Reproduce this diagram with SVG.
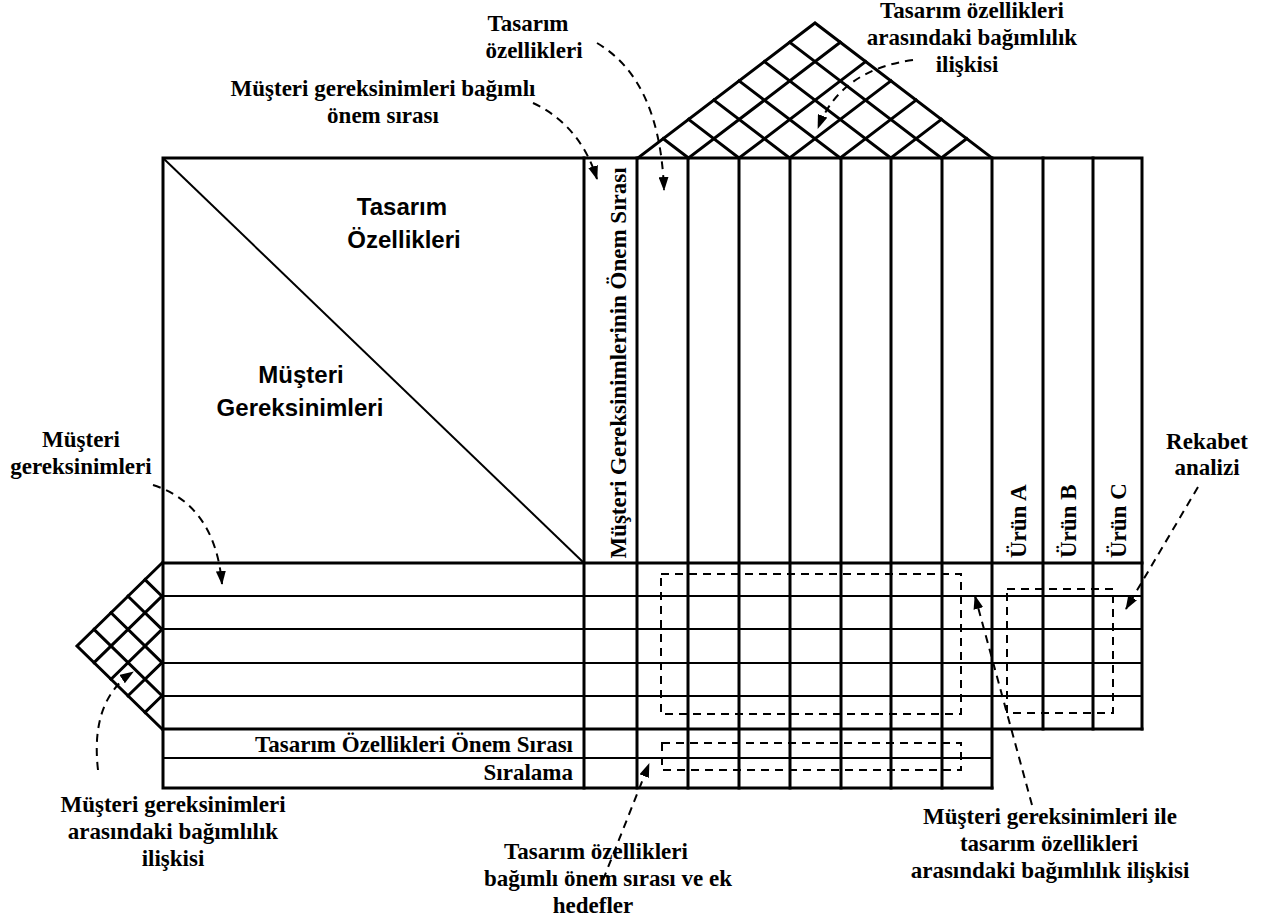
<svg xmlns="http://www.w3.org/2000/svg" width="1262" height="924" viewBox="0 0 1262 924">
<style>
.th{stroke:#000;stroke-width:3;fill:none;stroke-linecap:square}
.tn{stroke:#000;stroke-width:2;fill:none}
.ds{stroke:#000;stroke-width:2;fill:none;stroke-dasharray:8,6}
.lb{font-family:"Liberation Serif","Times New Roman",serif;font-weight:bold;font-size:23px;fill:#000}
.sn{font-family:"Liberation Sans",Arial,sans-serif;font-weight:bold;font-size:24px;fill:#000}
</style>
<defs>
<marker id="ah" markerUnits="userSpaceOnUse" markerWidth="14" markerHeight="10" refX="13" refY="5" orient="auto">
<path d="M0,0 L14,5 L0,10 Z" fill="#000"/>
</marker>
</defs>
<rect width="1262" height="924" fill="#fff"/>

<g id="roof">
<path class="th" d="M638,158 L815,23 L992,158"/>
<path class="th" d="M688.6,158 L840.3,42.3 M739.1,158 L865.6,61.6 M789.7,158 L890.9,80.9 M840.3,158 L916.1,100.1 M890.9,158 L941.4,119.4 M941.4,158 L966.7,138.7"/>
<path class="th" d="M688.6,158 L663.3,138.7 M739.1,158 L688.6,119.4 M789.7,158 L713.9,100.1 M840.3,158 L739.1,80.9 M890.9,158 L764.4,61.6 M941.4,158 L789.7,42.3"/>
</g>

<g id="left-diamond">
<path class="th" d="M162,563 L77,646 L162,729"/>
<path class="th" d="M162,596.2 L145,579.6 M162,629.4 L128,596.2 M162,662.6 L111,612.8 M162,695.8 L94,629.4"/>
<path class="th" d="M162,596.2 L94,662.6 M162,629.4 L111,679.2 M162,662.6 L128,695.8 M162,695.8 L145,712.4"/>
</g>

<g id="main-grid">
<path class="th" d="M163,158 L1142,158 L1142,729 M163,158 L163,788 L992,788"/>
<path class="tn" d="M163,158 L584,563"/>
<path class="th" d="M584,158 V788 M637,158 V788 M688,158 V788 M739,158 V788 M790,158 V788 M841,158 V788 M891,158 V788 M942,158 V788 M992,158 V788 M1043,158 V729 M1093,158 V729"/>
<path class="th" d="M163,563 H1142 M163,729 H1142"/>
<path class="tn" d="M163,596 H1142 M163,629 H1142 M163,663 H1142 M163,696 H1142 M163,758 H992"/>
</g>

<g id="dashed-regions">
<rect class="ds" x="661" y="574" width="300" height="140"/>
<rect class="ds" x="662" y="743" width="299" height="27"/>
<rect class="ds" x="1007" y="589" width="106" height="124"/>
</g>

<g id="inner-labels">
<text class="sn" x="402" y="215" text-anchor="middle">Tasarım</text>
<text class="sn" x="404" y="248" text-anchor="middle">Özellikleri</text>
<text class="sn" x="301" y="383" text-anchor="middle">Müşteri</text>
<text class="sn" x="300" y="416" text-anchor="middle">Gereksinimleri</text>
<text class="lb" transform="translate(626,363) rotate(-90)" text-anchor="middle">Müşteri Gereksinimlerinin Önem Sırası</text>
<text class="lb" transform="translate(1026,558) rotate(-90)">Ürün A</text>
<text class="lb" transform="translate(1076,558) rotate(-90)">Ürün B</text>
<text class="lb" transform="translate(1126,558) rotate(-90)">Ürün C</text>
<text class="lb" x="573" y="752" text-anchor="end">Tasarım Özellikleri Önem Sırası</text>
<text class="lb" x="573" y="780" text-anchor="end">Sıralama</text>
</g>

<g id="callout-labels">
<text class="lb" x="528" y="31" text-anchor="middle">Tasarım</text>
<text class="lb" x="534" y="58" text-anchor="middle">özellikleri</text>
<text class="lb" x="383" y="96" text-anchor="middle">Müşteri gereksinimleri bağımlı</text>
<text class="lb" x="383" y="123" text-anchor="middle">önem sırası</text>
<text class="lb" x="972" y="18" text-anchor="middle">Tasarım özellikleri</text>
<text class="lb" x="972" y="45" text-anchor="middle">arasındaki bağımlılık</text>
<text class="lb" x="967" y="72" text-anchor="middle">ilişkisi</text>
<text class="lb" x="81" y="447" text-anchor="middle">Müşteri</text>
<text class="lb" x="81" y="474" text-anchor="middle">gereksinimleri</text>
<text class="lb" x="1207" y="449" text-anchor="middle">Rekabet</text>
<text class="lb" x="1207" y="475" text-anchor="middle">analizi</text>
<text class="lb" x="173" y="812" text-anchor="middle">Müşteri gereksinimleri</text>
<text class="lb" x="173" y="839" text-anchor="middle">arasındaki bağımlılık</text>
<text class="lb" x="173" y="866" text-anchor="middle">ilişkisi</text>
<text class="lb" x="596" y="859" text-anchor="middle">Tasarım özellikleri</text>
<text class="lb" x="608" y="886" text-anchor="middle">bağımlı önem sırası ve ek</text>
<text class="lb" x="593" y="913" text-anchor="middle">hedefler</text>
<text class="lb" x="1050" y="824" text-anchor="middle">Müşteri gereksinimleri ile</text>
<text class="lb" x="1049" y="851" text-anchor="middle">tasarım özellikleri</text>
<text class="lb" x="1050" y="878" text-anchor="middle">arasındaki bağımlılık ilişkisi</text>
</g>

<g id="connectors">
<path class="ds" d="M597,43 Q660,80 664,190" marker-end="url(#ah)"/>
<path class="ds" d="M533,103 Q580,125 597,179" marker-end="url(#ah)"/>
<path class="ds" d="M913,60 Q840,70 818,128" marker-end="url(#ah)"/>
<path class="ds" d="M153,485 Q215,505 222,584" marker-end="url(#ah)"/>
<path class="ds" d="M98,770 Q90,700 133,672" marker-end="url(#ah)"/>
<path class="ds" d="M603,880 L649,764" marker-end="url(#ah)"/>
<path class="ds" d="M1032,805 L975,596" marker-end="url(#ah)"/>
<path class="ds" d="M1198,487 L1126,609" marker-end="url(#ah)"/>
</g>
</svg>
